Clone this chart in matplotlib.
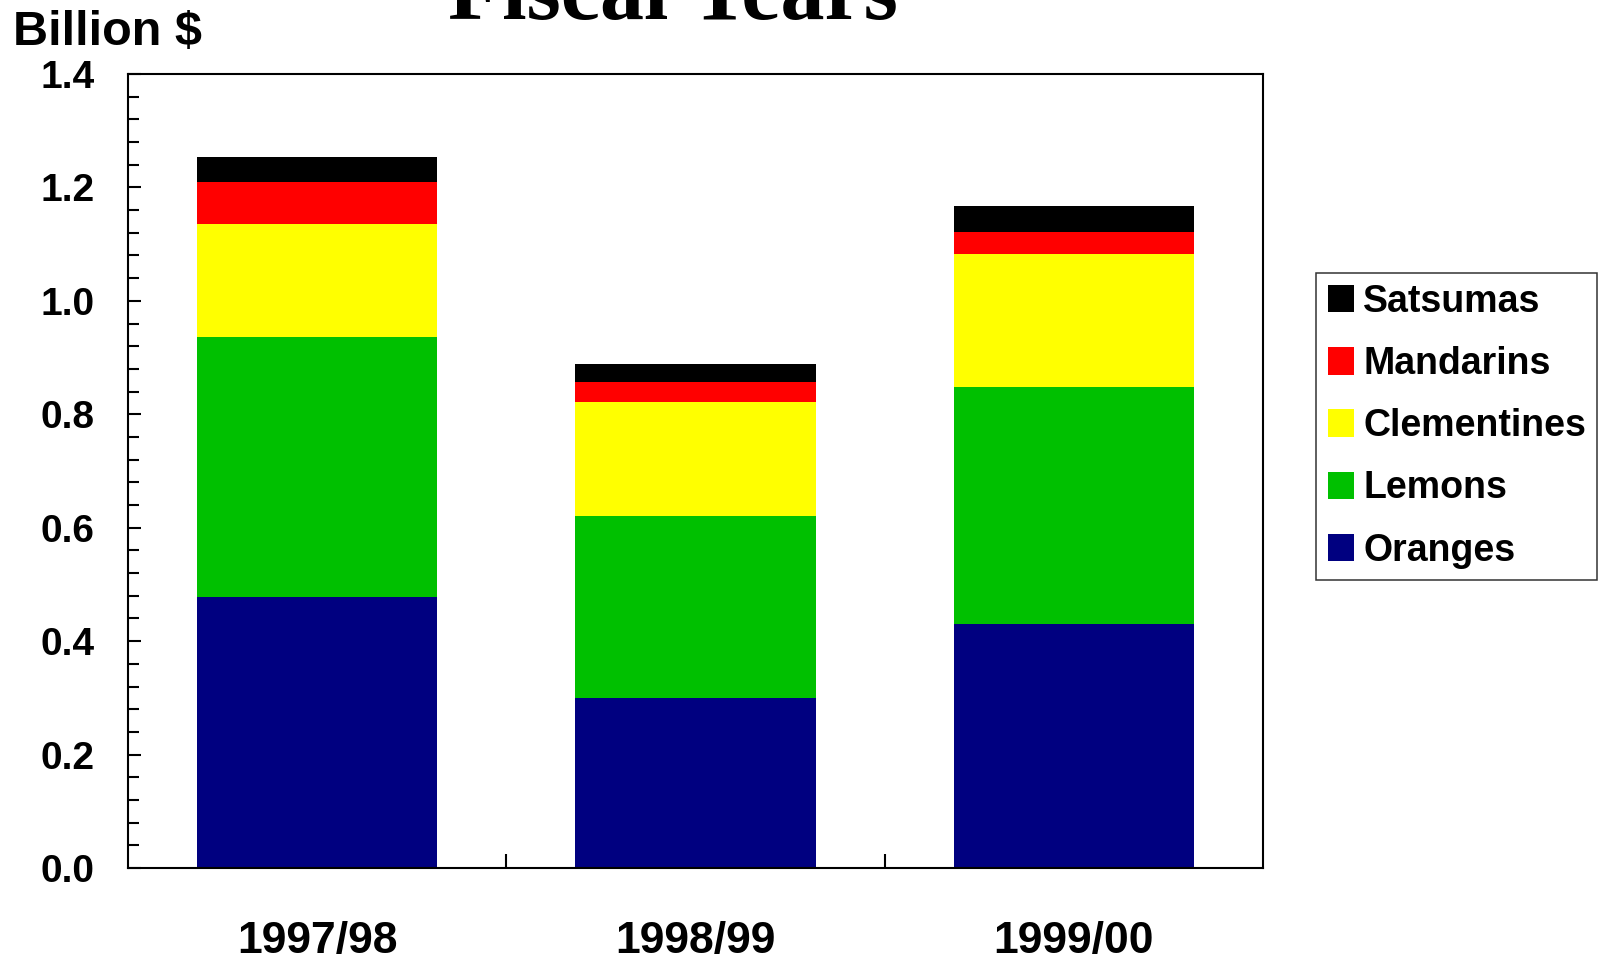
import matplotlib
matplotlib.use("Agg")
import matplotlib.pyplot as plt
import numpy as np
from matplotlib.ticker import MultipleLocator, FixedLocator

years = ["1997/98", "1998/99", "1999/00"]
oranges = [0.477, 0.300, 0.430]
lemons = [0.459, 0.321, 0.418]
clementines = [0.200, 0.201, 0.235]
mandarins = [0.074, 0.035, 0.039]
satsumas = [0.044, 0.032, 0.046]

series = [("Oranges", oranges, "#000080"),
          ("Lemons", lemons, "#00C000"),
          ("Clementines", clementines, "#FFFF00"),
          ("Mandarins", mandarins, "#FF0000"),
          ("Satsumas", satsumas, "#000000")]

W, H = 1606, 961
fig = plt.figure(figsize=(W / 100, H / 100), dpi=100)
ax = fig.add_axes([128 / W, 1 - 868 / H, (1263 - 128) / W, (868 - 74) / H])

font = "Liberation Sans"
x = np.arange(len(years))
bottom = np.zeros(len(years))
handles = {}
for name, vals, col in series:
    b = ax.bar(x, vals, width=0.635, bottom=bottom, color=col, edgecolor="none",
               label=name, zorder=2)
    handles[name] = b
    bottom = bottom + np.array(vals)

ax.set_xlim(-0.5, 2.5)
ax.set_ylim(0, 1.4)
ax.yaxis.set_minor_locator(MultipleLocator(0.04))
ax.xaxis.set_major_locator(FixedLocator([0, 1, 2]))
ax.xaxis.set_minor_locator(FixedLocator([0.5, 1.5]))
ax.set_xticklabels(years)
yt = np.arange(0, 1.41, 0.2)
ax.set_yticks(yt)
ax.set_yticklabels([f"{v:.1f}" for v in yt])

for s in ax.spines.values():
    s.set_linewidth(1.5)
    s.set_color("black")

ax.tick_params(axis="y", which="both", direction="in", width=1.5, left=True, right=False)
ax.tick_params(axis="y", which="major", length=9, pad=24)
ax.tick_params(axis="y", which="minor", length=8.0)
ax.tick_params(axis="x", which="both", direction="in", width=1.5, top=False)
ax.tick_params(axis="x", which="major", length=7, pad=38)
ax.tick_params(axis="x", which="minor", length=10)

for lab in ax.get_yticklabels():
    lab.set_fontfamily(font)
    lab.set_fontweight("bold")
    lab.set_fontsize(28)
for lab in ax.get_xticklabels():
    lab.set_fontfamily(font)
    lab.set_fontweight("bold")
    lab.set_fontsize(32)

fig.text(13 / W, 1 - 45 / H, "Billion $", fontfamily=font, fontweight="bold",
         fontsize=35, ha="left", va="baseline")
fig.text(673 / W, 1 - 19 / H, "Fiscal Years", fontfamily="Liberation Serif",
         fontweight="bold", fontsize=63.5, ha="center", va="baseline")

order = ["Satsumas", "Mandarins", "Clementines", "Lemons", "Oranges"]
leg = fig.legend([handles[n] for n in order], order, loc="upper left",
                 bbox_to_anchor=(1316.5 / W, 1 - 272.5 / H), borderaxespad=0,
                 prop={"family": font, "weight": "bold", "size": 27},
                 handlelength=0.7, handleheight=0.75, handletextpad=0.25,
                 labelspacing=0.7, borderpad=0.3, fancybox=False, frameon=True)
leg.get_frame().set_edgecolor("black")
leg.get_frame().set_linewidth(1.1)

fig.savefig("out.png", dpi=100, facecolor="white")
